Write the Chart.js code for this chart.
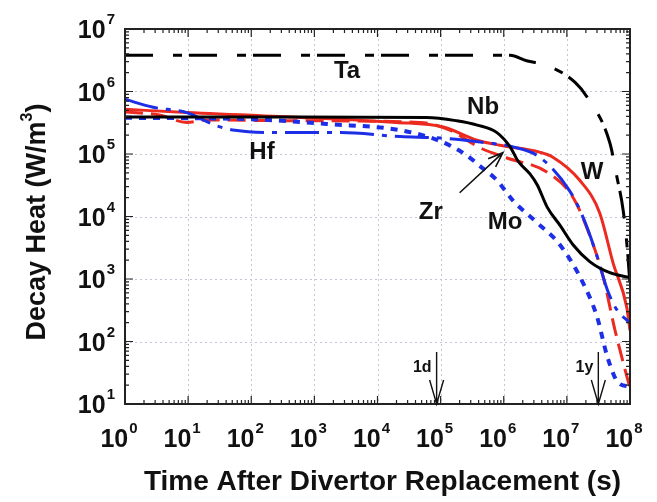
<!DOCTYPE html>
<html>
<head>
<meta charset="utf-8">
<script src="https://cdn.jsdelivr.net/npm/chart.js@4.4.0/dist/chart.umd.min.js"></script>
<style>
  html, body { margin: 0; padding: 0; background: #fff; }
  #wrap { width: 657px; height: 502px; }
</style>
</head>
<body>
<div id="wrap"><canvas id="chart"></canvas></div>
<script>
// time after replacement (s) and decay heat (W/m3)
const taTime = [1, 1.26e6, 2.3e6, 4.9e6, 1.35e7, 2.1e7, 4.8e7, 6.2e7, 7.8e7, 9.1e7, 1e8];
const taHeat = [3.8e6, 3.8e6, 3.1e6, 2.6e6, 1.4e6, 8.1e5, 1.5e5, 4.3e4, 1.25e4, 2.9e3, 8e2];

const nbTime = [1, 590, 6.0e4, 1.8e5, 3.8e5, 7.8e5, 1.26e6, 1.7e6, 2.6e6, 3.4e6, 4.9e6, 7.8e6, 1.26e7, 2.3e7, 4.8e7, 1e8];
const nbHeat = [3.9e5, 3.9e5, 3.85e5, 3.4e5, 2.9e5, 2.2e5, 1.3e5, 7.6e4, 4.8e4, 3.2e4, 1.4e4, 7.2e3, 3.5e3, 1.9e3, 1.26e3, 1.05e3];

const wTime = [1, 9.5, 2.0e4, 1.1e5, 3.8e5, 8.7e5, 3.7e6, 6.0e6, 1.6e7, 3.3e7, 5.4e7, 8.9e7, 1e8];
const wHeat = [5.2e5, 4.6e5, 3.2e5, 2.7e5, 1.66e5, 1.38e5, 1.07e5, 8.9e4, 3.8e4, 1.15e4, 1.8e3, 3.5e2, 1.5e2];

const zrTime = [1, 3.5, 9.5, 19, 590, 4.7e4, 1.4e5, 4.2e5, 1.1e6, 4.9e6, 1.26e7, 2.3e7, 3.7e7, 5.8e7, 7.8e7, 1e8];
const zrHeat = [4.7e5, 4.2e5, 3.2e5, 3.5e5, 3.4e5, 3.2e5, 2.4e5, 1.26e5, 8.7e4, 5.1e4, 2.0e4, 5.0e3, 1.15e3, 1.5e2, 46, 18];

const moTime = [1, 95, 1.8e3, 2.3e4, 1e5, 2.6e5, 4.2e5, 7.8e5, 1.4e6, 3.4e6, 7.8e6, 1.8e7, 3.0e7, 4.4e7, 6.5e7, 1e8];
const moHeat = [3.8e5, 3.6e5, 3.0e5, 2.4e5, 1.6e5, 9.5e4, 6.4e4, 3.8e4, 1.8e4, 7.9e3, 3.5e3, 8.7e2, 2.5e2, 56, 22, 19];

const hfTime = [1, 2.8, 9.5, 29, 55, 290, 2.6e3, 2.3e4, 1e5, 4.2e5, 1.4e6, 3.7e6, 1.1e7, 1.8e7, 2.8e7, 4.4e7, 6.2e7, 8.9e7, 1e8];
const hfHeat = [7.5e5, 5.6e5, 4.6e5, 2.8e5, 2.4e5, 2.2e5, 2.2e5, 1.9e5, 1.8e5, 1.55e5, 1.3e5, 8.9e4, 2.6e4, 9.8e3, 2.9e3, 6.6e2, 3.2e2, 2.2e2, 2.0e2];

// axis ticks (powers of ten)
const xExponents = [0, 1, 2, 3, 4, 5, 6, 7, 8];
const yExponents = [1, 2, 3, 4, 5, 6, 7];

// curve labels, placed in data coordinates
const labelText = ["Ta", "Nb", "Hf", "W", "Zr", "Mo"];
const labelTime = [3.3e3, 4.7e5, 148, 2.5e7, 7.0e4, 1.05e6];
const labelHeat = [2.1e6, 5.5e5, 1.07e5, 5.0e4, 1.17e4, 8.1e3];

// time markers
const markText = ["1d", "1y"];
const markTime = [86400, 3.15e7];

// arrow pointing to Zr curve
const zrArrowTime = [2.0e5, 9.7e5];
const zrArrowHeat = [2.4e4, 1.05e5];

const RED = "#ec2a1f";
const BLUE = "#1c2ee6";
const BLACK = "#000000";
const FONT = "'Liberation Sans', Arial, sans-serif";

function pts(t, v){ return t.map((x, i) => ({ x, y: v[i] })); }

function series(label, t, v, color, dash, width){
  return {
    label, data: pts(t, v), borderColor: color, borderDash: dash,
    borderWidth: width, pointRadius: 0, fill: false,
    cubicInterpolationMode: "monotone", borderCapStyle: "butt"
  };
}

function drawPow(ctx, base, exp, x, y, align){
  ctx.font = "bold 25px " + FONT;
  const wb = ctx.measureText(base).width;
  ctx.font = "bold 15px " + FONT;
  const we = ctx.measureText(exp).width;
  const total = wb + we + 1;
  let x0 = x;
  if (align === "center") x0 = x - total / 2;
  if (align === "right") x0 = x - total;
  ctx.textAlign = "left";
  ctx.textBaseline = "alphabetic";
  ctx.font = "bold 25px " + FONT;
  ctx.fillText(base, x0, y);
  ctx.font = "bold 15px " + FONT;
  ctx.fillText(exp, x0 + wb + 1, y - 14);
}

const framePlugin = {
  id: "frame",
  beforeDatasetsDraw(chart){
    const { ctx, chartArea: a, scales: { x, y } } = chart;
    ctx.save();
    ctx.strokeStyle = "#c4c6d8";
    ctx.lineWidth = 1;
    ctx.setLineDash([2, 3]);
    xExponents.forEach(e => {
      const px = Math.round(x.getPixelForValue(Math.pow(10, e))) + 0.5;
      ctx.beginPath(); ctx.moveTo(px, a.top); ctx.lineTo(px, a.bottom); ctx.stroke();
    });
    yExponents.forEach(e => {
      const py = Math.round(y.getPixelForValue(Math.pow(10, e))) + 0.5;
      ctx.beginPath(); ctx.moveTo(a.left, py); ctx.lineTo(a.right, py); ctx.stroke();
    });
    ctx.restore();
  },
  afterDatasetsDraw(chart){
    const { ctx, chartArea: a, scales: { x, y } } = chart;
    ctx.save();
    ctx.setLineDash([]);
    ctx.strokeStyle = "#222";
    ctx.fillStyle = "#111";

    // minor / major tick marks on all four sides
    ctx.lineWidth = 1.2;
    for (let e = 0; e < 8; e++){
      for (let m = 1; m <= 9; m++){
        const px = x.getPixelForValue(m * Math.pow(10, e));
        const len = m === 1 ? 8 : 4;
        ctx.beginPath();
        ctx.moveTo(px, a.bottom); ctx.lineTo(px, a.bottom - len);
        ctx.moveTo(px, a.top); ctx.lineTo(px, a.top + len);
        ctx.stroke();
      }
    }
    for (let e = 1; e < 7; e++){
      for (let m = 1; m <= 9; m++){
        const py = y.getPixelForValue(m * Math.pow(10, e));
        const len = m === 1 ? 8 : 4;
        ctx.beginPath();
        ctx.moveTo(a.left, py); ctx.lineTo(a.left + len, py);
        ctx.moveTo(a.right, py); ctx.lineTo(a.right - len, py);
        ctx.stroke();
      }
    }

    // box
    ctx.lineWidth = 2;
    ctx.strokeRect(a.left, a.top, a.right - a.left, a.bottom - a.top);

    // tick labels
    xExponents.forEach(e => {
      drawPow(ctx, "10", String(e), x.getPixelForValue(Math.pow(10, e)) - 6, a.bottom + 43, "center");
    });
    yExponents.forEach(e => {
      drawPow(ctx, "10", String(e), a.left - 10, y.getPixelForValue(Math.pow(10, e)) + 9, "right");
    });

    // axis titles
    ctx.textAlign = "center";
    ctx.textBaseline = "alphabetic";
    ctx.font = "bold 28px " + FONT;
    ctx.fillText("Time After Divertor Replacement (s)", (a.left + a.right) / 2 + 5, 490);
    ctx.save();
    ctx.translate(45, 222);
    ctx.rotate(-Math.PI / 2);
    ctx.font = "bold 27px " + FONT;
    const t1 = "Decay Heat (W/m";
    const w1 = ctx.measureText(t1).width;
    ctx.font = "bold 16px " + FONT;
    const w2 = ctx.measureText("3").width;
    ctx.font = "bold 27px " + FONT;
    const w3 = ctx.measureText(")").width;
    const start = -(w1 + w2 + w3) / 2;
    ctx.textAlign = "left";
    ctx.fillText(t1, start, 0);
    ctx.font = "bold 16px " + FONT;
    ctx.fillText("3", start + w1, -13);
    ctx.font = "bold 27px " + FONT;
    ctx.fillText(")", start + w1 + w2, 0);
    ctx.restore();

    // curve labels
    ctx.textAlign = "center";
    ctx.textBaseline = "middle";
    ctx.font = "bold 24px " + FONT;
    labelText.forEach((s, i) => {
      ctx.fillText(s, x.getPixelForValue(labelTime[i]), y.getPixelForValue(labelHeat[i]));
    });

    // Zr arrow
    const ax0 = x.getPixelForValue(zrArrowTime[0]), ay0 = y.getPixelForValue(zrArrowHeat[0]);
    const ax1 = x.getPixelForValue(zrArrowTime[1]), ay1 = y.getPixelForValue(zrArrowHeat[1]);
    const ang = Math.atan2(ay1 - ay0, ax1 - ax0);
    ctx.strokeStyle = "#111";
    ctx.lineWidth = 1.6;
    ctx.beginPath();
    ctx.moveTo(ax0, ay0); ctx.lineTo(ax1, ay1);
    ctx.moveTo(ax1 - 16 * Math.cos(ang - 0.35), ay1 - 16 * Math.sin(ang - 0.35));
    ctx.lineTo(ax1, ay1);
    ctx.lineTo(ax1 - 16 * Math.cos(ang + 0.35), ay1 - 16 * Math.sin(ang + 0.35));
    ctx.stroke();

    // 1d / 1y markers
    ctx.font = "bold 16px " + FONT;
    ctx.lineWidth = 1.4;
    markText.forEach((s, i) => {
      const px = x.getPixelForValue(markTime[i]);
      ctx.beginPath();
      ctx.moveTo(px, a.bottom - 52); ctx.lineTo(px, a.bottom);
      ctx.moveTo(px - 7, a.bottom - 24); ctx.lineTo(px, a.bottom); ctx.lineTo(px + 7, a.bottom - 24);
      ctx.stroke();
      ctx.textAlign = "right";
      ctx.fillText(s, px - 5, a.bottom - 36);
    });
    ctx.restore();
  }
};

new Chart(document.getElementById("chart"), {
  type: "line",
  data: {
    datasets: [
      series("Ta", taTime, taHeat, BLACK, [28, 20, 9, 7], 3),
      series("Nb", nbTime, nbHeat, BLACK, [], 3),
      series("Hf", hfTime, hfHeat, BLUE, [34, 8, 5, 8], 3),
      series("Mo", moTime, moHeat, BLUE, [7, 7], 4),
      series("Zr", zrTime, zrHeat, RED, [18, 8], 3),
      series("W", wTime, wHeat, RED, [], 3)
    ]
  },
  options: {
    responsive: true,
    maintainAspectRatio: false,
    animation: false,
    layout: { padding: { top: 29, right: 27, left: 0, bottom: 0 } },
    plugins: { legend: { display: false }, tooltip: { enabled: false } },
    scales: {
      x: {
        type: "logarithmic", min: 1, max: 1e8,
        grid: { display: false }, border: { display: false },
        ticks: { display: false },
        afterFit(scale){ scale.height = 98; }
      },
      y: {
        type: "logarithmic", min: 10, max: 1e7,
        grid: { display: false }, border: { display: false },
        ticks: { display: false },
        afterFit(scale){ scale.width = 125; }
      }
    }
  },
  plugins: [framePlugin]
});
</script>
</body>
</html>
